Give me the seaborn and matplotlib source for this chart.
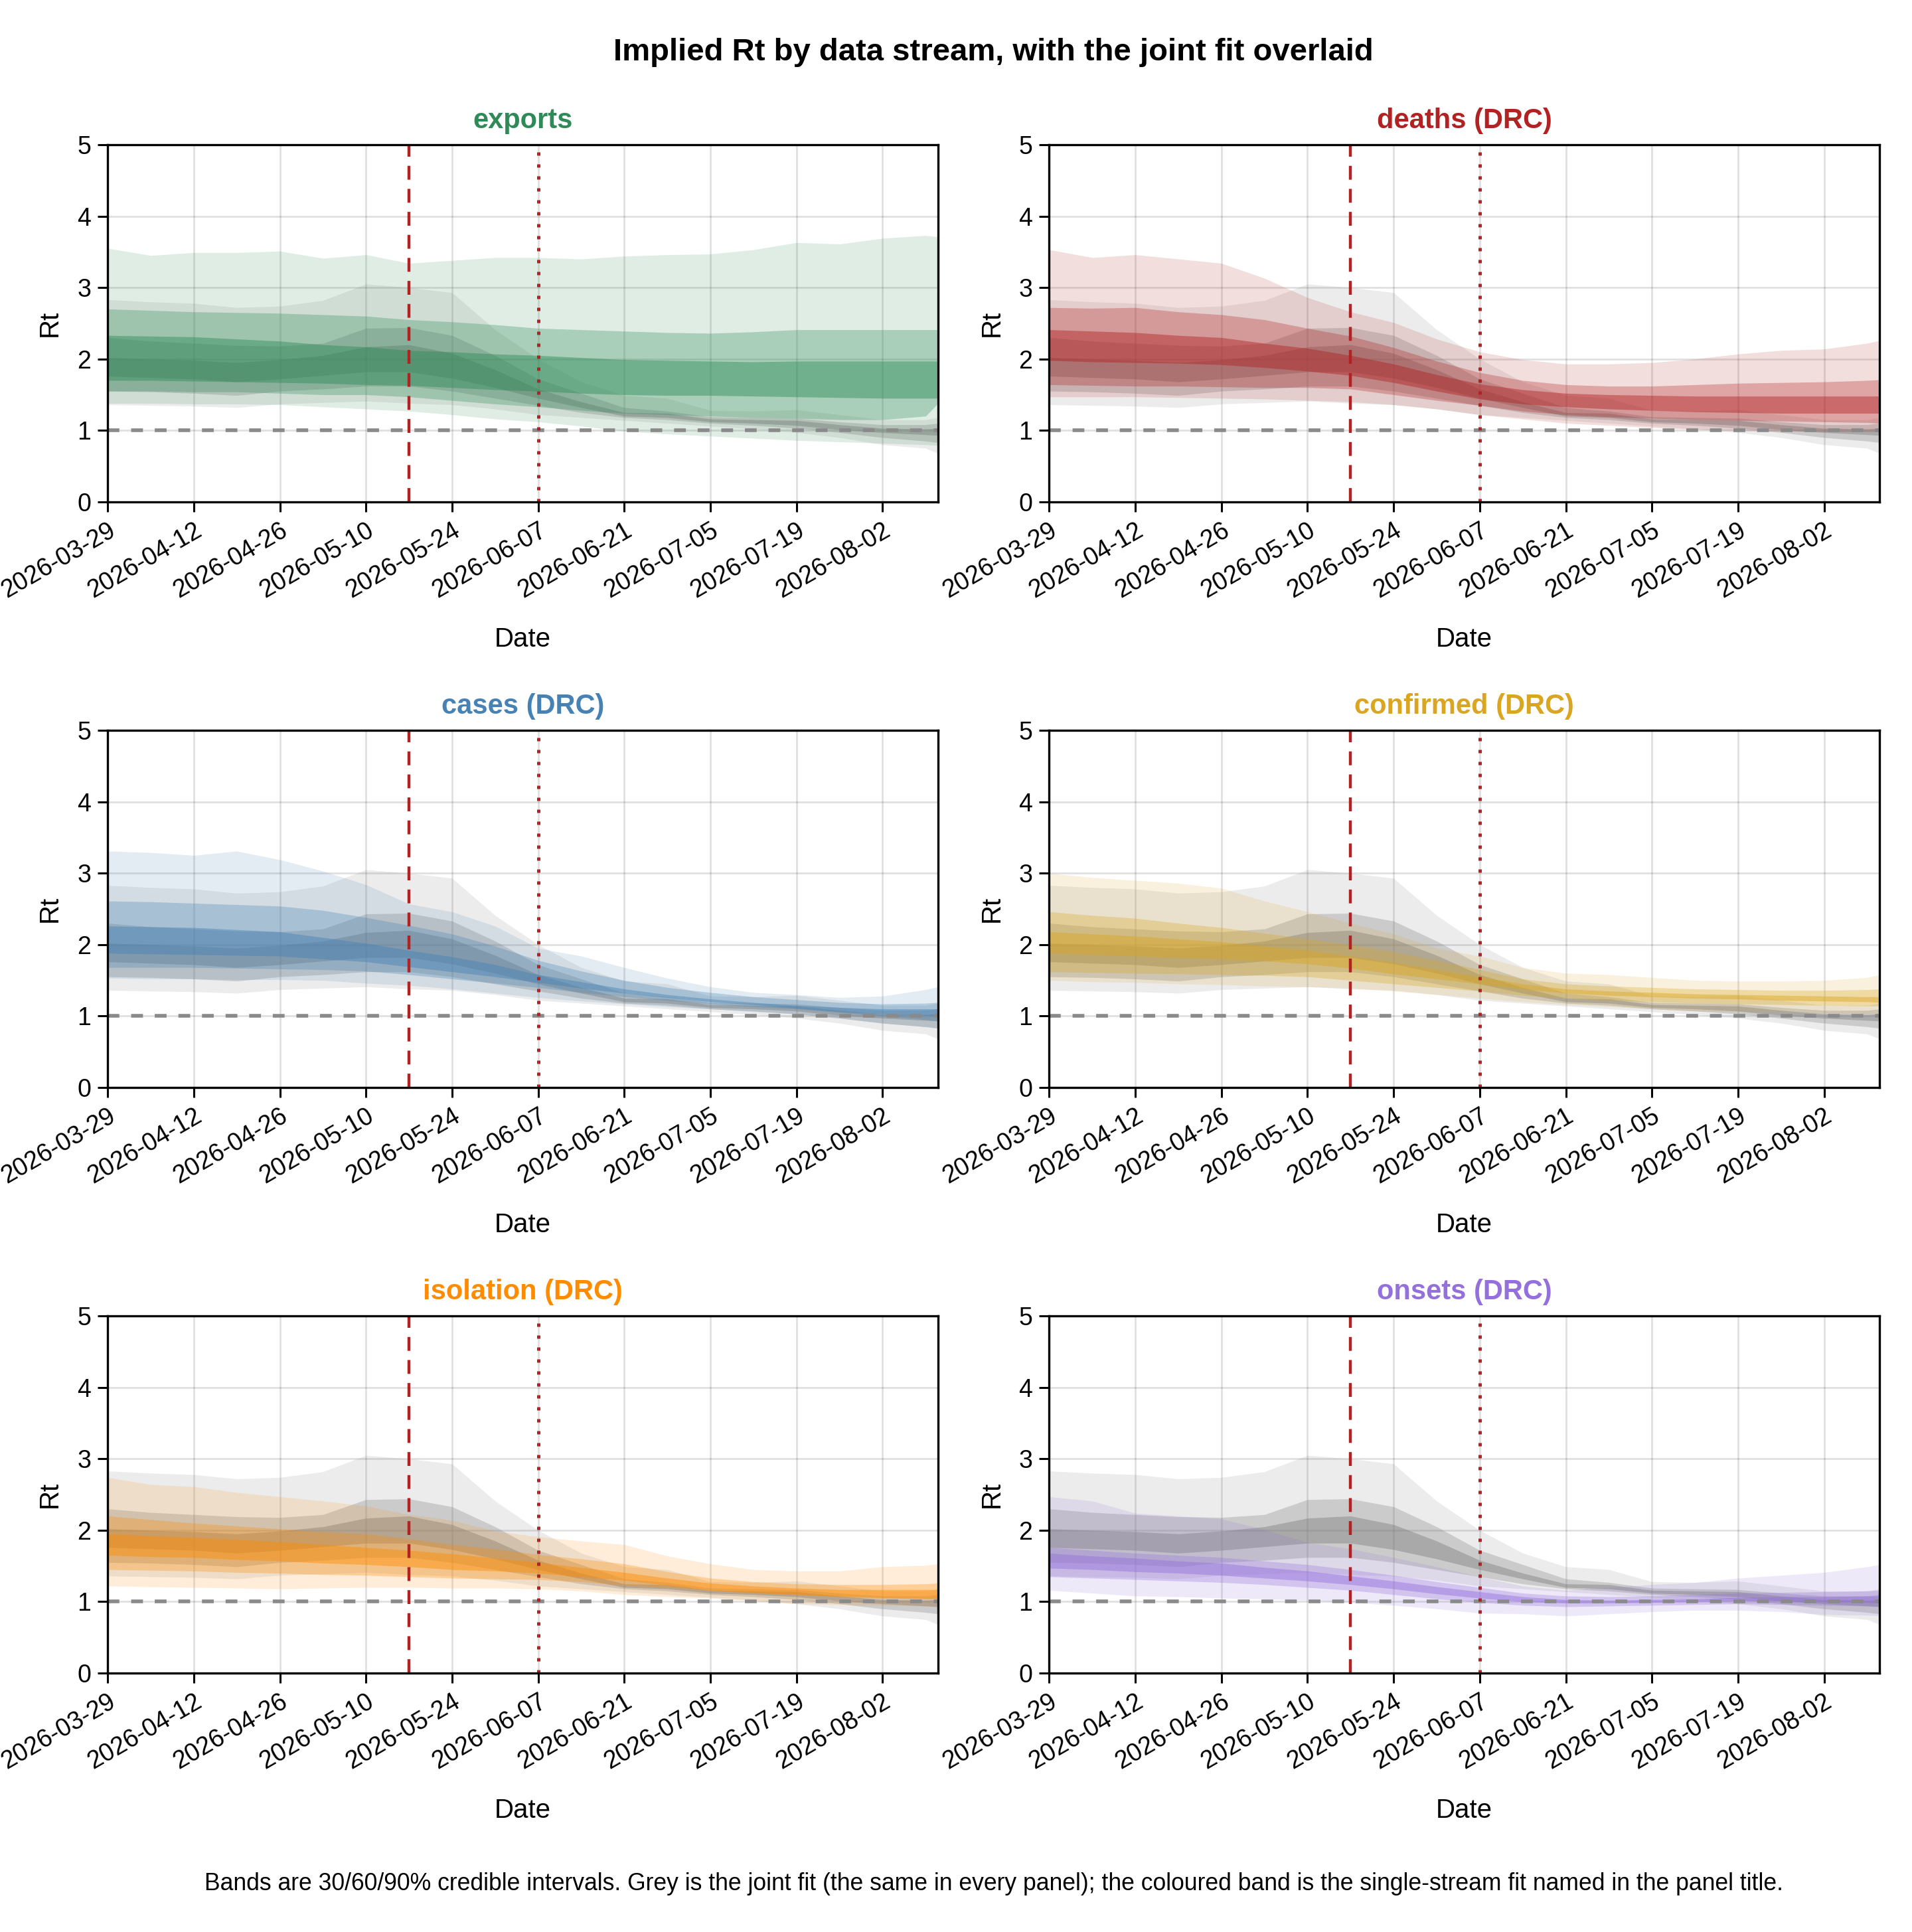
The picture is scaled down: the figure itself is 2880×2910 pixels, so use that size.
import numpy as np
import pandas as pd
import matplotlib
matplotlib.use("Agg")
import matplotlib.pyplot as plt
import matplotlib.dates as mdates
import seaborn as sns

# weekly dates (last point is the right edge)
dates = pd.to_datetime([
    "2026-03-29", "2026-04-05", "2026-04-12", "2026-04-19", "2026-04-26",
    "2026-05-03", "2026-05-10", "2026-05-17", "2026-05-24", "2026-05-31",
    "2026-06-07", "2026-06-14", "2026-06-21", "2026-06-28", "2026-07-05",
    "2026-07-12", "2026-07-19", "2026-07-26", "2026-08-02", "2026-08-09",
    "2026-08-11",
])

# each band set: [lo90, lo60, lo30, hi30, hi60, hi90]
joint_bands = [
    [1.36, 1.35, 1.34, 1.32, 1.37, 1.39, 1.41, 1.38, 1.36, 1.30, 1.22, 1.18, 1.14, 1.10, 1.06, 1.02, 0.97, 0.90, 0.80, 0.75, 0.68],
    [1.55, 1.54, 1.52, 1.49, 1.55, 1.58, 1.62, 1.62, 1.55, 1.45, 1.35, 1.25, 1.18, 1.15, 1.10, 1.07, 1.03, 0.97, 0.90, 0.85, 0.83],
    [1.76, 1.74, 1.72, 1.68, 1.72, 1.77, 1.82, 1.82, 1.73, 1.60, 1.45, 1.32, 1.20, 1.18, 1.12, 1.10, 1.07, 1.01, 0.97, 0.94, 0.93],
    [2.02, 2.00, 1.98, 1.95, 1.99, 2.05, 2.17, 2.20, 2.08, 1.85, 1.58, 1.40, 1.25, 1.24, 1.16, 1.15, 1.14, 1.08, 1.03, 1.02, 1.03],
    [2.30, 2.25, 2.22, 2.19, 2.18, 2.22, 2.43, 2.44, 2.33, 2.05, 1.72, 1.52, 1.32, 1.27, 1.19, 1.18, 1.17, 1.12, 1.08, 1.08, 1.10],
    [2.83, 2.80, 2.78, 2.72, 2.74, 2.82, 3.05, 3.00, 2.93, 2.41, 2.00, 1.68, 1.49, 1.45, 1.28, 1.27, 1.29, 1.22, 1.15, 1.15, 1.18],
]

exports_bands = [
    [1.38, 1.38, 1.37, 1.37, 1.36, 1.33, 1.30, 1.27, 1.22, 1.16, 1.12, 1.06, 0.99, 0.95, 0.92, 0.89, 0.86, 0.84, 0.82, 0.80, 0.79],
    [1.55, 1.55, 1.54, 1.54, 1.52, 1.50, 1.50, 1.47, 1.42, 1.37, 1.33, 1.28, 1.24, 1.22, 1.20, 1.18, 1.17, 1.15, 1.15, 1.20, 1.38],
    [1.70, 1.70, 1.69, 1.68, 1.67, 1.66, 1.64, 1.63, 1.60, 1.57, 1.55, 1.52, 1.50, 1.49, 1.49, 1.48, 1.47, 1.46, 1.45, 1.45, 1.45],
    [2.33, 2.32, 2.31, 2.28, 2.25, 2.20, 2.17, 2.12, 2.10, 2.07, 2.05, 2.02, 1.99, 1.98, 1.97, 1.96, 1.97, 1.97, 1.97, 1.97, 1.97],
    [2.70, 2.68, 2.66, 2.65, 2.64, 2.62, 2.60, 2.55, 2.52, 2.48, 2.43, 2.41, 2.39, 2.37, 2.36, 2.38, 2.41, 2.41, 2.41, 2.41, 2.41],
    [3.55, 3.45, 3.49, 3.49, 3.51, 3.41, 3.46, 3.34, 3.38, 3.42, 3.42, 3.40, 3.44, 3.46, 3.47, 3.53, 3.63, 3.61, 3.69, 3.73, 3.71],
]

deaths_bands = [
    [1.47, 1.47, 1.47, 1.46, 1.45, 1.44, 1.42, 1.40, 1.36, 1.30, 1.22, 1.16, 1.10, 1.07, 1.04, 1.01, 1.00, 0.99, 0.98, 0.98, 0.98],
    [1.64, 1.63, 1.62, 1.62, 1.61, 1.60, 1.60, 1.58, 1.50, 1.42, 1.35, 1.27, 1.22, 1.19, 1.17, 1.15, 1.14, 1.13, 1.12, 1.11, 1.10],
    [1.98, 1.96, 1.95, 1.94, 1.92, 1.88, 1.83, 1.77, 1.67, 1.55, 1.44, 1.37, 1.33, 1.30, 1.28, 1.26, 1.25, 1.24, 1.24, 1.24, 1.24],
    [2.41, 2.39, 2.37, 2.33, 2.30, 2.22, 2.15, 2.05, 1.93, 1.78, 1.65, 1.57, 1.52, 1.50, 1.49, 1.48, 1.48, 1.48, 1.48, 1.48, 1.48],
    [2.72, 2.71, 2.72, 2.66, 2.62, 2.55, 2.43, 2.32, 2.16, 1.97, 1.81, 1.70, 1.64, 1.62, 1.62, 1.64, 1.66, 1.67, 1.68, 1.70, 1.71],
    [3.53, 3.42, 3.46, 3.40, 3.34, 3.13, 2.86, 2.66, 2.51, 2.28, 2.10, 1.99, 1.93, 1.93, 1.95, 2.00, 2.07, 2.12, 2.14, 2.22, 2.26],
]

cases_bands = [
    [1.53, 1.52, 1.52, 1.51, 1.51, 1.50, 1.46, 1.43, 1.38, 1.32, 1.26, 1.21, 1.17, 1.13, 1.10, 1.06, 1.03, 0.97, 0.90, 0.85, 0.83],
    [1.68, 1.68, 1.68, 1.67, 1.66, 1.65, 1.63, 1.58, 1.52, 1.46, 1.40, 1.33, 1.27, 1.22, 1.17, 1.13, 1.10, 1.05, 1.00, 0.95, 0.93],
    [1.88, 1.87, 1.86, 1.85, 1.84, 1.80, 1.76, 1.69, 1.62, 1.55, 1.47, 1.39, 1.32, 1.26, 1.20, 1.16, 1.11, 1.06, 1.03, 1.01, 1.00],
    [2.26, 2.25, 2.24, 2.21, 2.18, 2.10, 2.02, 1.92, 1.83, 1.72, 1.58, 1.48, 1.38, 1.30, 1.24, 1.19, 1.15, 1.12, 1.10, 1.10, 1.10],
    [2.61, 2.60, 2.58, 2.56, 2.54, 2.48, 2.38, 2.27, 2.15, 1.98, 1.78, 1.63, 1.50, 1.40, 1.33, 1.27, 1.23, 1.19, 1.17, 1.18, 1.19],
    [3.31, 3.29, 3.25, 3.31, 3.19, 3.03, 2.84, 2.57, 2.46, 2.26, 1.95, 1.84, 1.68, 1.53, 1.41, 1.33, 1.30, 1.26, 1.28, 1.37, 1.41],
]

confirmed_bands = [
    [1.50, 1.48, 1.47, 1.45, 1.44, 1.42, 1.41, 1.39, 1.35, 1.30, 1.25, 1.20, 1.16, 1.13, 1.10, 1.07, 1.06, 1.05, 1.04, 1.03, 1.03],
    [1.62, 1.61, 1.60, 1.59, 1.58, 1.57, 1.55, 1.50, 1.45, 1.40, 1.35, 1.29, 1.25, 1.22, 1.20, 1.18, 1.17, 1.16, 1.15, 1.14, 1.14],
    [1.88, 1.86, 1.84, 1.82, 1.80, 1.77, 1.73, 1.67, 1.59, 1.52, 1.45, 1.38, 1.32, 1.29, 1.27, 1.25, 1.24, 1.22, 1.21, 1.20, 1.19],
    [2.18, 2.15, 2.12, 2.08, 2.04, 1.98, 1.92, 1.84, 1.75, 1.65, 1.55, 1.45, 1.38, 1.35, 1.33, 1.31, 1.30, 1.29, 1.28, 1.27, 1.27],
    [2.46, 2.41, 2.37, 2.30, 2.24, 2.16, 2.08, 2.00, 1.90, 1.78, 1.65, 1.52, 1.45, 1.42, 1.40, 1.38, 1.37, 1.36, 1.36, 1.37, 1.38],
    [3.00, 2.94, 2.90, 2.86, 2.79, 2.61, 2.46, 2.30, 2.15, 1.95, 1.84, 1.68, 1.60, 1.58, 1.54, 1.50, 1.49, 1.49, 1.50, 1.54, 1.58],
]

isolation_bands = [
    [1.22, 1.21, 1.20, 1.19, 1.18, 1.19, 1.20, 1.20, 1.19, 1.19, 1.18, 1.15, 1.10, 1.07, 1.05, 1.01, 0.97, 0.96, 0.95, 0.94, 0.93],
    [1.45, 1.44, 1.43, 1.41, 1.40, 1.38, 1.37, 1.35, 1.33, 1.32, 1.31, 1.28, 1.23, 1.20, 1.16, 1.13, 1.10, 1.08, 1.06, 1.05, 1.04],
    [1.65, 1.63, 1.62, 1.59, 1.57, 1.54, 1.52, 1.49, 1.45, 1.43, 1.40, 1.35, 1.30, 1.23, 1.16, 1.12, 1.10, 1.07, 1.05, 1.04, 1.04],
    [1.95, 1.92, 1.90, 1.87, 1.84, 1.80, 1.76, 1.72, 1.67, 1.61, 1.55, 1.48, 1.41, 1.33, 1.26, 1.22, 1.19, 1.17, 1.17, 1.17, 1.17],
    [2.20, 2.15, 2.10, 2.06, 2.02, 1.98, 1.95, 1.88, 1.80, 1.74, 1.66, 1.60, 1.53, 1.42, 1.33, 1.28, 1.25, 1.24, 1.24, 1.25, 1.26],
    [2.74, 2.64, 2.61, 2.53, 2.47, 2.41, 2.34, 2.22, 2.14, 1.99, 1.91, 1.85, 1.80, 1.64, 1.53, 1.45, 1.43, 1.43, 1.49, 1.51, 1.53],
]

onsets_bands = [
    [1.16, 1.12, 1.08, 1.07, 1.05, 1.04, 1.02, 0.99, 0.95, 0.90, 0.84, 0.83, 0.80, 0.83, 0.86, 0.88, 0.88, 0.86, 0.82, 0.81, 0.80],
    [1.35, 1.33, 1.31, 1.29, 1.27, 1.24, 1.20, 1.16, 1.10, 1.04, 0.99, 0.95, 0.93, 0.94, 0.95, 0.96, 0.97, 0.96, 0.95, 0.94, 0.93],
    [1.47, 1.45, 1.42, 1.40, 1.37, 1.33, 1.29, 1.24, 1.18, 1.11, 1.05, 1.00, 0.98, 0.98, 0.99, 1.00, 1.01, 1.01, 1.00, 0.99, 0.98],
    [1.68, 1.64, 1.61, 1.57, 1.54, 1.48, 1.43, 1.36, 1.29, 1.21, 1.14, 1.07, 1.03, 1.02, 1.03, 1.04, 1.06, 1.07, 1.07, 1.08, 1.08],
    [1.76, 1.72, 1.68, 1.65, 1.62, 1.57, 1.52, 1.45, 1.37, 1.28, 1.20, 1.12, 1.08, 1.07, 1.08, 1.10, 1.12, 1.13, 1.14, 1.15, 1.16],
    [2.47, 2.41, 2.24, 2.20, 2.16, 2.01, 1.83, 1.74, 1.62, 1.49, 1.35, 1.22, 1.16, 1.20, 1.24, 1.27, 1.33, 1.37, 1.41, 1.49, 1.52],
]

stream_names = ["exports", "deaths (DRC)", "cases (DRC)",
                "confirmed (DRC)", "isolation (DRC)", "onsets (DRC)"]
stream_colors = ["#2E8B57", "#B22222", "#4682B4",
                 "#DAA520", "#FF8C00", "#9370DB"]
stream_bands = [exports_bands, deaths_bands, cases_bands,
                confirmed_bands, isolation_bands, onsets_bands]

event_dashed = pd.Timestamp("2026-05-17")
event_dotted = pd.Timestamp("2026-06-07")
tick_dates = pd.date_range("2026-03-29", "2026-08-02", freq="14D")

sns.set_theme(style="ticks")
plt.rcParams["font.family"] = ["Liberation Sans", "DejaVu Sans"]
plt.rcParams["text.color"] = "black"
plt.rcParams["axes.labelcolor"] = "black"

band_alphas = [0.15, 0.3, 0.45]  # 90, 60, 30


def draw_bands(ax, bands, color):
    for k, a in enumerate(band_alphas):
        ax.fill_between(dates, bands[k], bands[5 - k], color=color,
                        alpha=a, linewidth=0)


fig, axes = plt.subplots(3, 2, figsize=(14.4, 14.55), dpi=200)
fig.subplots_adjust(left=0.0563, right=0.983, top=0.9251, bottom=0.134,
                    wspace=0.134, hspace=0.64)

for ax, name, color, bands in zip(axes.flat, stream_names, stream_colors, stream_bands):
    ax.set_axisbelow(True)
    ax.grid(True, color="black", alpha=0.12, linewidth=1.0)
    draw_bands(ax, joint_bands, "#808080")
    draw_bands(ax, bands, color)
    ax.axhline(1.0, color="#8a8a8a", linewidth=2.0, linestyle=(0, (3.2, 3.2)))
    ax.axvline(event_dashed, color="#B22222", linewidth=1.6, linestyle=(0, (4.7, 3.1)))
    ax.axvline(event_dotted, color="#B22222", linewidth=1.8, linestyle=(0, (1.0, 2.6)))

    ax.set_xlim(dates[0], dates[-1])
    ax.set_ylim(0, 5)
    ax.set_yticks([0, 1, 2, 3, 4, 5])
    ax.set_xticks(tick_dates)
    ax.xaxis.set_major_formatter(mdates.DateFormatter("%Y-%m-%d"))
    for lbl in ax.get_xticklabels():
        lbl.set_rotation(30)
        lbl.set_ha("right")
        lbl.set_va("top")
        lbl.set_rotation_mode("anchor")
    ax.tick_params(axis="both", labelsize=13.5, length=5.5, width=1.1,
                   direction="out", colors="black")
    for s in ax.spines.values():
        s.set_visible(True)
        s.set_linewidth(1.2)
        s.set_color("black")
    ax.set_xlabel("Date", fontsize=14.5, labelpad=13)
    ax.set_ylabel("Rt", fontsize=14.5, labelpad=8)
    ax.set_title(name, color=color, fontsize=15, fontweight="bold", pad=9)

mid = (0.0563 + 0.983) / 2
fig.text(mid, 0.973, "Implied Rt by data stream, with the joint fit overlaid",
         ha="center", va="center", fontsize=17, fontweight="bold")
fig.text(mid, 0.025,
         "Bands are 30/60/90% credible intervals. Grey is the joint fit (the same in every panel); "
         "the coloured band is the single-stream fit named in the panel title.",
         ha="center", va="center", fontsize=12.8)

fig.savefig("out.png", dpi=200)
plt.close(fig)
